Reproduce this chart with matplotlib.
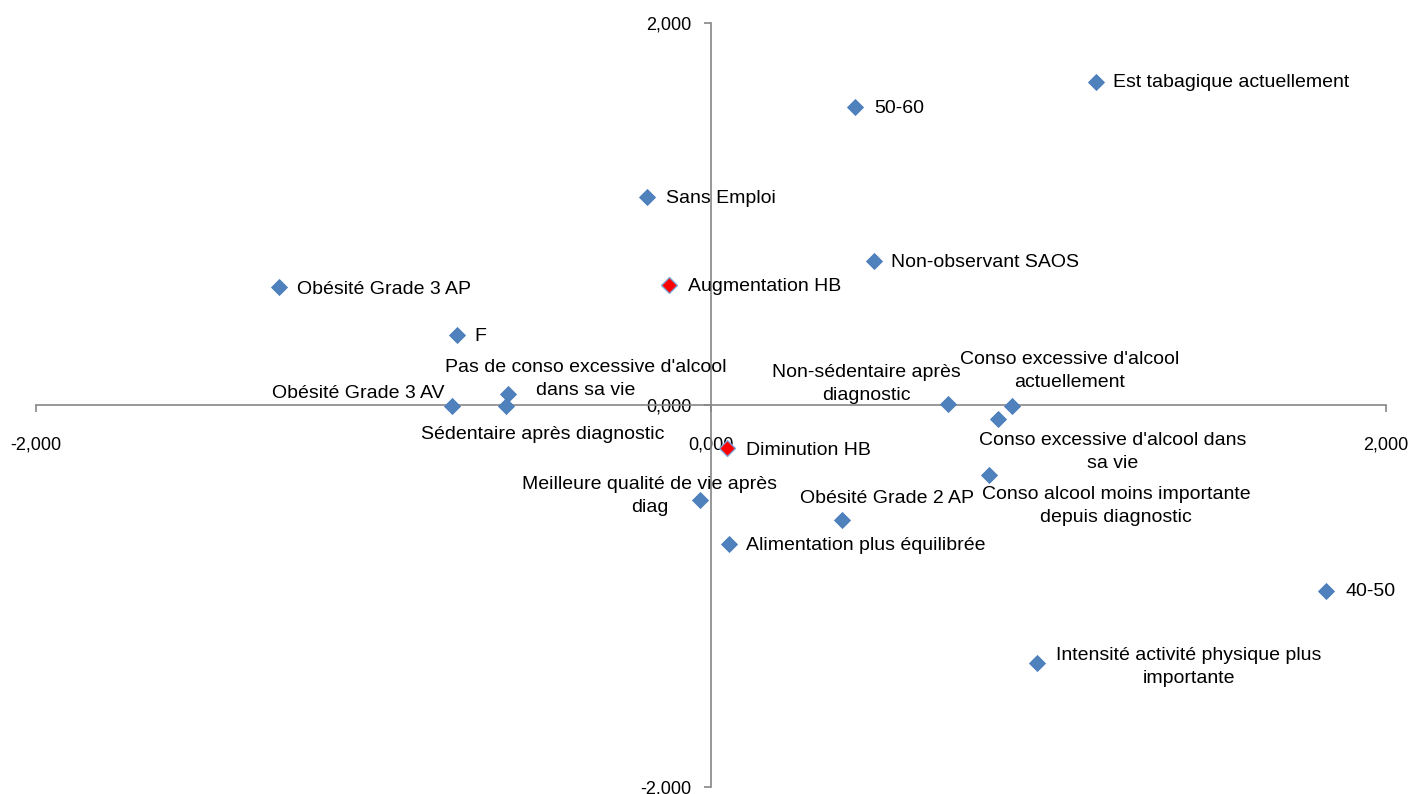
import matplotlib
matplotlib.use("Agg")
import matplotlib.pyplot as plt
from matplotlib.ticker import FixedLocator, FixedFormatter

plt.rcParams['font.family'] = ['Liberation Sans', 'DejaVu Sans']

# ---- data ----
labels = [
    "Est tabagique actuellement", "50-60", "Sans Emploi", "Non-observant SAOS",
    "Obésité Grade 3 AP", "Augmentation HB", "F",
    "Pas de conso excessive d'alcool\ndans sa vie", "Obésité Grade 3 AV",
    "Sédentaire après diagnostic", "Diminution HB",
    "Non-sédentaire après\ndiagnostic", "Conso excessive d'alcool\nactuellement",
    "Conso excessive d'alcool dans\nsa vie", "Conso alcool moins importante\ndepuis diagnostic",
    "Meilleure qualité de vie après\ndiag", "Obésité Grade 2 AP",
    "Alimentation plus équilibrée", "40-50",
    "Intensité activité physique plus\nimportante",
]
x_vals = [1.141, 0.427, -0.190, 0.483, -1.280, -0.124, -0.753, -0.601, -0.767, -0.607,
          0.047, 0.702, 0.892, 0.850, 0.824, -0.033, 0.388, 0.053, 1.822, 0.966]
y_vals = [1.688, 1.558, 1.086, 0.751, 0.615, 0.626, 0.364, 0.055, -0.008, -0.008,
          -0.228, 0.003, -0.008, -0.076, -0.369, -0.500, -0.605, -0.730, -0.976, -1.353]
highlight = [False, False, False, False, False, True, False, False, False, False,
             True, False, False, False, False, False, False, False, False, False]
tick_values = [-2, 0, 2]
tick_labels = ["-2,000", "0,000", "2,000"]

# label layout (offset in pixels: dx right, dy down; horizontal alignment)
label_offsets = [(17, 0), (19, 1), (19, 1), (17, 1), (18, 2), (19, 1), (18, 1),
                 (78, -15.5), (-94, -13), (37, 28), (19, 2), (-82, -20), (58, -35),
                 (115, 33), (127, 30.5), (-50, -4.5), (45, -22), (17, 1), (20, 0),
                 (152, 3.5)]
label_ha = ["left", "left", "left", "left", "left", "left", "left",
            "center", "center", "center", "left", "center", "center",
            "center", "center", "center", "center", "left", "left", "center"]

W, H = 1411, 794
fig = plt.figure(figsize=(W / 100, H / 100), dpi=100)
ax = fig.add_axes([36 / W, (H - 787) / H, 1350 / W, (787 - 22.7) / H])
ax.set_xlim(-2, 2)
ax.set_ylim(-2, 2)

blue = "#4F81BD"
for xv, yv, hl in zip(x_vals, y_vals, highlight):
    ax.plot([xv], [yv], linestyle="none", marker="D", markersize=8.6,
            markerfacecolor="#FF0000" if hl else blue,
            markeredgecolor="#7EA6D6" if hl else "#4A7EBB",
            markeredgewidth=1.0 if hl else 0.6, zorder=3)

for lab, xv, yv, (dx, dy), ha in zip(labels, x_vals, y_vals, label_offsets, label_ha):
    ax.annotate(lab, (xv, yv), xytext=(dx, -dy), textcoords="offset pixels",
                ha=ha, va="center", multialignment="center", fontsize=14,
                linespacing=1.45, color="#000000", zorder=4)

for s in ["top", "right"]:
    ax.spines[s].set_visible(False)
for s in ["left", "bottom"]:
    ax.spines[s].set_position("zero")
    ax.spines[s].set_color("#868686")
    ax.spines[s].set_linewidth(1.2)

ax.xaxis.set_major_locator(FixedLocator(tick_values))
ax.xaxis.set_major_formatter(FixedFormatter(tick_labels))
ax.yaxis.set_major_locator(FixedLocator(tick_values))
ax.yaxis.set_major_formatter(FixedFormatter(tick_labels))
ax.tick_params(axis="both", direction="out", length=5, width=1.2, color="#868686",
               labelsize=13, labelcolor="#000000")
ax.tick_params(axis="x", pad=18)
ax.tick_params(axis="y", pad=9)
ax.patch.set_visible(False)

fig.savefig("out.png", dpi=100)
